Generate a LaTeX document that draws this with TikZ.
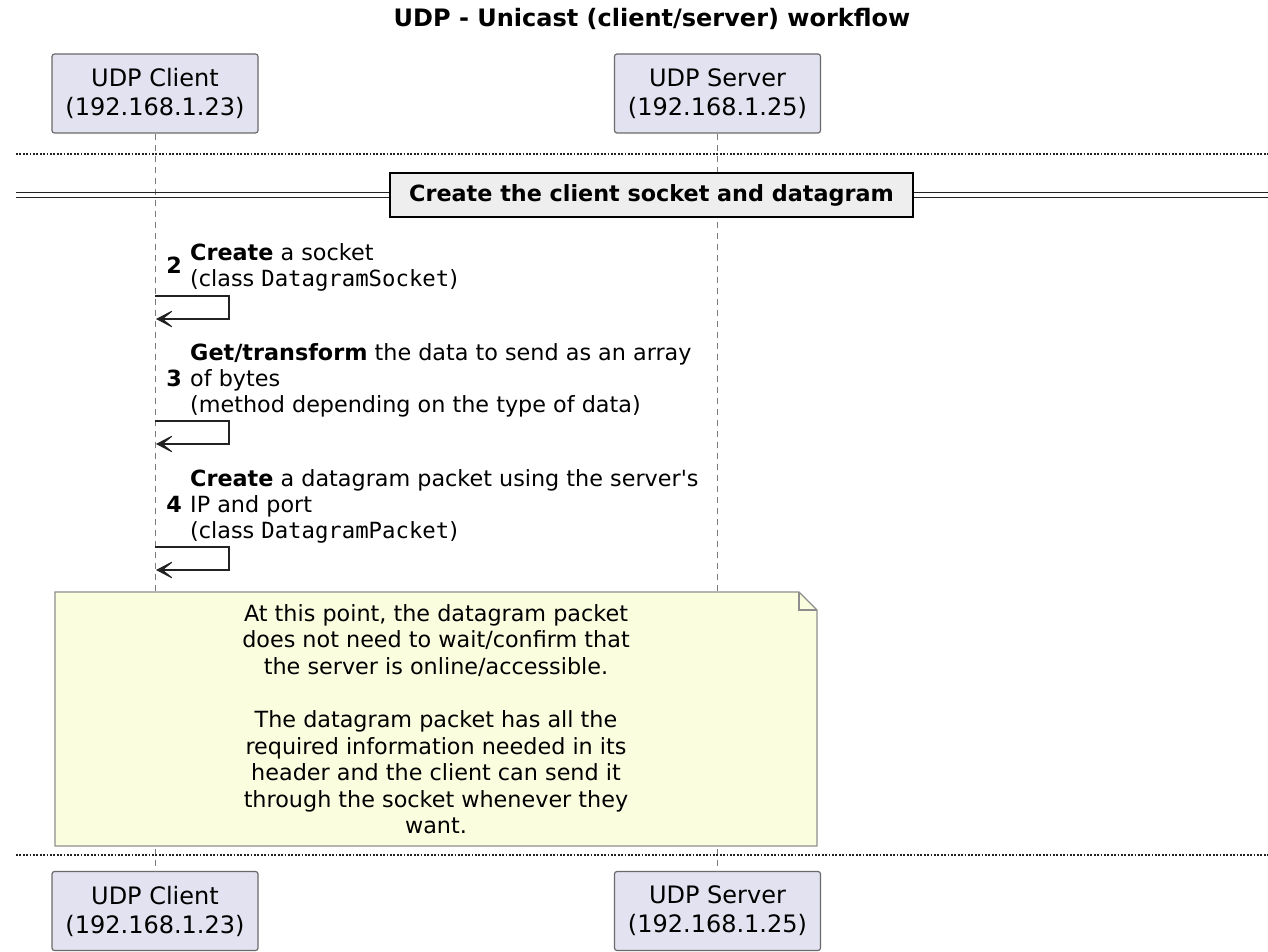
\documentclass[tikz,border=0pt]{standalone}
\usepackage{fontspec}
\setmainfont{DejaVu Sans}
\newfontfamily\codefont{DejaVu Sans Mono}
\usetikzlibrary{arrows.meta}

\definecolor{partfill}{HTML}{E2E2F0}
\definecolor{partline}{HTML}{6A6A6A}
\definecolor{lifeline}{HTML}{7A7A7A}
\definecolor{notefill}{HTML}{FBFDDF}
\definecolor{noteline}{HTML}{8E8E8E}
\definecolor{groupfill}{HTML}{EEEEEE}
\definecolor{inkdark}{HTML}{222222}

\newcommand{\cls}[1]{{\codefont #1}}

\begin{document}
\begin{tikzpicture}[x=1pt,y=-1pt,
  participant/.style={draw=partline,fill=partfill,line width=1.2pt,rounded corners=2.5pt,
    minimum width=206pt,minimum height=79pt,inner sep=0pt,align=center,
    font=\fontsize{24}{29}\selectfont},
  lifeline/.style={draw=lifeline,line width=0.9pt,dash pattern=on 6pt off 5pt},
  separator/.style={draw=inkdark,line width=1.6pt,dash pattern=on 1.8pt off 1.6pt},
  divider/.style={draw=inkdark,line width=1.4pt},
  groupbox/.style={draw=black,fill=groupfill,line width=2.4pt,inner sep=0pt,
    minimum width=523pt,minimum height=44pt,font=\bfseries\fontsize{22.3}{26}\selectfont},
  msgtext/.style={anchor=base west,inner sep=0pt,align=left,
    font=\fontsize{22.3}{26}\selectfont},
  msgnum/.style={anchor=base east,inner sep=0pt,font=\bfseries\fontsize{22.3}{26}\selectfont},
  selfmsg/.style={draw=inkdark,line width=1.5pt,
    -{Stealth[length=20pt,width=21pt,inset=13pt,line width=1pt]}},
  notetext/.style={anchor=north,inner sep=0pt,align=center,
    font=\fontsize{22.3}{26.6}\selectfont},
]
\useasboundingbox (0,0) rectangle (1268,952);

% title
\node[anchor=base,inner sep=0pt,font=\bfseries\fontsize{24}{29}\selectfont] (title) at (652,27)
  {UDP - Unicast (client/server) workflow};

% participants, top and bottom
\node[participant] (clientTop) at (155,93.5) {UDP Client\\(192.168.1.23)};
\node[participant] (serverTop) at (717.5,93.5) {UDP Server\\(192.168.1.25)};
\node[participant] (clientBot) at (155,911) {UDP Client\\(192.168.1.23)};
\node[participant] (serverBot) at (717.5,911) {UDP Server\\(192.168.1.25)};

% lifelines
\draw[lifeline] (clientTop.south) -- (clientBot.north);
\draw[lifeline] (serverTop.south) -- (serverBot.north);

% dotted separators
\coordinate (sepTopL) at (16,154);
\coordinate (sepTopR) at (1268,154);
\coordinate (sepBotL) at (16,855);
\coordinate (sepBotR) at (1268,855);
\draw[separator] (sepTopL) -- (sepTopR);
\draw[separator] (sepBotL) -- (sepBotR);

% group divider
\coordinate (divL) at (16,195);
\coordinate (divR) at (1268,195);
\node[groupbox] (group) at (651.5,195) {Create the client socket and datagram};
\draw[divider] ([yshift=-2.5pt]divL) -- ([yshift=-2.5pt]group.west);
\draw[divider] ([yshift=2.5pt]divL) -- ([yshift=2.5pt]group.west);
\draw[divider] ([yshift=-2.5pt]group.east) -- ([yshift=-2.5pt]divR);
\draw[divider] ([yshift=2.5pt]group.east) -- ([yshift=2.5pt]divR);

% message 2 (text node is anchored at the baseline of its last line)
\node[msgnum] (n2) at (182,273) {2};
\node[msgtext] (t2) at (190,286) {\textbf{Create} a socket\\(class \cls{DatagramSocket})};
\coordinate (m2a) at (155,296);
\coordinate (m2b) at (156,319);
\draw[selfmsg] (m2a) -- (229,296) -- (229,319) -- (m2b);

% message 3
\node[msgnum] (n3) at (182,386) {3};
\node[msgtext] (t3) at (190,412) {\textbf{Get/transform} the data to send as an array\\of bytes\\(method depending on the type of data)};
\coordinate (m3a) at (155,421);
\coordinate (m3b) at (156,444);
\draw[selfmsg] (m3a) -- (229,421) -- (229,444) -- (m3b);

% message 4
\node[msgnum] (n4) at (182,512) {4};
\node[msgtext] (t4) at (190,538) {\textbf{Create} a datagram packet using the server\textquotesingle s\\IP and port\\(class \cls{DatagramPacket})};
\coordinate (m4a) at (155,547);
\coordinate (m4b) at (156,570);
\draw[selfmsg] (m4a) -- (229,547) -- (229,570) -- (m4b);

% note over both participants
\draw[draw=noteline,fill=notefill,line width=1.4pt]
  (55,592) -- (799,592) -- (817,610) -- (817,846) -- (55,846) -- cycle;
\draw[draw=noteline,line width=1.4pt] (799,592) -- (799,610) -- (817,610);
\node[notetext] (note) at (436,604)
  {At this point, the datagram packet\\does not need to wait/confirm that\\the server is online/accessible.\\[26.6pt]
   The datagram packet has all the\\required information needed in its\\header and the client can send it\\through the socket whenever they\\want.};
\end{tikzpicture}
\end{document}
